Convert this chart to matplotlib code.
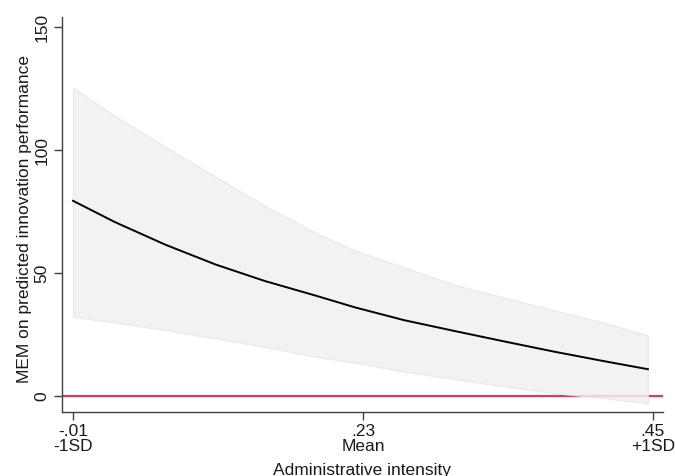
import matplotlib
matplotlib.use("Agg")
import matplotlib.pyplot as plt

plt.rcParams['font.family'] = ['Liberation Sans', 'DejaVu Sans']

# values (x in data units of administrative intensity)
admin_x = [-0.010, 0.023, 0.063, 0.103, 0.142, 0.182, 0.214, 0.253, 0.293, 0.333, 0.372, 0.412, 0.446]
mem = [79.4, 70.8, 61.6, 53.5, 46.8, 40.9, 36.0, 30.8, 26.4, 22.1, 18.0, 14.1, 10.9]
ci_upper = [125.5, 114.0, 101.5, 89.3, 77.5, 66.5, 59.2, 52.2, 45.2, 39.9, 34.8, 29.8, 24.6]
ci_lower = [32.2, 29.9, 26.8, 23.4, 20.0, 16.0, 13.5, 9.9, 6.8, 3.8, 1.1, -0.9, -3.0]

xtick_pos = [-0.01, 0.22, 0.45]
xtick_labels = ["-.01\n-1SD", ".23\nMean", ".45\n+1SD"]
ytick_pos = [0, 50, 100, 150]
ytick_labels = ["0", "50", "100", "150"]

fig = plt.figure(figsize=(6.75, 4.76), dpi=100)
ax = fig.add_axes([0.0919, 0.1345, 0.8903, 0.8295])

# reference line at zero, then CI band over it
ax.axhline(0, color='#d93a62', linewidth=1.6, zorder=1)
ax.fill_between(admin_x, ci_lower, ci_upper, facecolor='#f0f0f0', edgecolor='#e6e6e6',
                linewidth=0.8, alpha=0.85, zorder=2)
ax.plot(admin_x, mem, color='black', linewidth=1.4, zorder=3)

ax.set_xlim(-0.0187, 0.458)
ax.set_ylim(-6.5, 154.1)

ax.set_xticks(xtick_pos)
ax.set_xticklabels(xtick_labels, fontsize=12.5, linespacing=0.92)
ax.set_yticks(ytick_pos)
ax.set_yticklabels(ytick_labels, fontsize=12.5, rotation=90, va='center')

for side in ['top', 'right']:
    ax.spines[side].set_visible(False)
for side in ['left', 'bottom']:
    ax.spines[side].set_color('#404040')
    ax.spines[side].set_linewidth(1.0)
ax.tick_params(axis='both', direction='out', length=6, width=1.0, color='#404040',
               labelcolor='#1a1a1a', pad=3)

ax.set_ylabel("MEM on predicted innovation performance", fontsize=12.5, color='#1a1a1a')
ax.yaxis.set_label_coords(-0.050, 0.49)
fig.text(0.537, 0.012, "Administrative intensity", fontsize=12.5, color='#1a1a1a',
         ha='center', va='center')

fig.savefig("out.png", dpi=100, facecolor='white')
